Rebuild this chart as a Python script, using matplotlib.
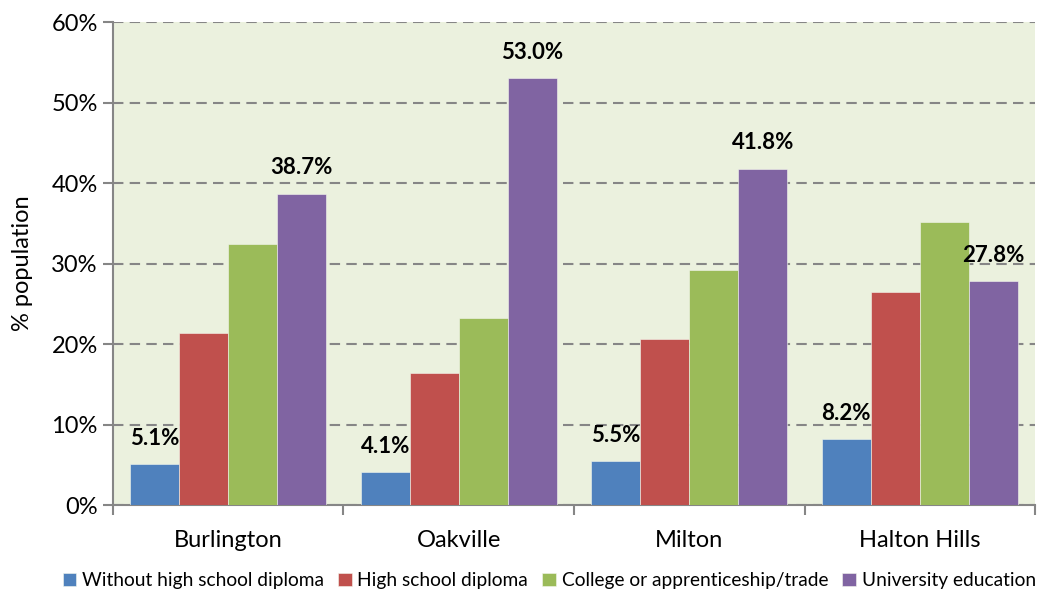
import matplotlib.pyplot as plt
import numpy as np

plt.rcParams['font.family'] = ['Lato', 'DejaVu Sans']

# data
towns = ["Burlington", "Oakville", "Milton", "Halton Hills"]
series_names = ["Without high school diploma", "High school diploma",
                "College or apprenticeship/trade", "University education"]
no_diploma = [5.1, 4.1, 5.5, 8.2]
high_school = [21.4, 16.4, 20.6, 26.5]
college = [32.4, 23.2, 29.2, 35.2]
university = [38.7, 53.0, 41.8, 27.8]
colors = ["#4F81BD", "#C0504D", "#9BBB59", "#8064A2"]
labelled = [True, False, False, True]

fig = plt.figure(figsize=(10.42, 5.95), dpi=100)
ax = fig.add_axes([0.1084, 0.151, 0.885, 0.812])
ax.set_facecolor("#EBF1DE")

x = np.arange(len(towns))
w = 0.2125
all_series = [no_diploma, high_school, college, university]
for i, (vals, name, col) in enumerate(zip(all_series, series_names, colors)):
    pos = x + (i - 1.5) * w
    bars = ax.bar(pos, vals, width=w, color=col, label=name, zorder=3,
                  edgecolor="#F4F7EE", linewidth=0.4)
    if labelled[i]:
        for b, v in zip(bars, vals):
            ax.annotate(f"{v:.1f}%", (b.get_x() + b.get_width() / 2, v),
                        xytext=(0, 11), textcoords="offset points",
                        ha="center", va="bottom", fontsize=16,
                        fontweight="bold", color="black", zorder=4)

ax.set_xlim(-0.5, len(towns) - 0.5)
ax.set_ylim(0, 60)
ax.set_yticks(np.arange(0, 61, 10))
ax.set_yticklabels([f"{t}%" for t in range(0, 61, 10)], fontsize=17)
ax.set_xticks(x)
ax.set_xticklabels(towns, fontsize=17)
ax.tick_params(axis="x", length=0, pad=18)
ax.set_xticks(np.arange(-0.5, len(towns)), minor=True)
ax.tick_params(axis="x", which="minor", length=7, width=1.5, color="#868686")
ax.tick_params(axis="y", length=7, width=1.5, color="#868686", pad=4)

ax.yaxis.grid(True, linestyle=(0, (5, 3)), color="#868686", linewidth=1.5, zorder=1)
ax.set_axisbelow(True)
for s in ["top", "right"]:
    ax.spines[s].set_visible(False)
for s in ["left", "bottom"]:
    ax.spines[s].set_color("#868686")
    ax.spines[s].set_linewidth(1.5)

ax.set_ylabel("% population", fontsize=17, labelpad=13)

handles, labels = ax.get_legend_handles_labels()
fig.legend(handles, labels, loc="center", bbox_to_anchor=(0.527, 0.024), ncol=4,
           frameon=False, fontsize=13.8, handlelength=0.7, handleheight=0.7,
           handletextpad=0.3, columnspacing=0.75, borderaxespad=0, borderpad=0)

fig.savefig("out.png", dpi=100)
